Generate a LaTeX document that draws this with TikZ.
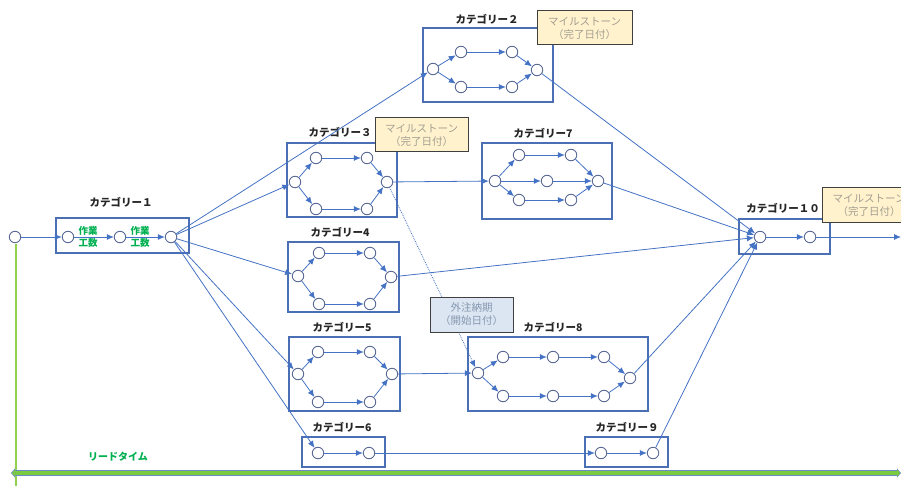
\documentclass[tikz,border=0pt]{standalone}
\usepackage{fontspec}
\newfontfamily\jp{Noto Sans CJK JP}
\usetikzlibrary{arrows.meta}

\definecolor{lineblue}{HTML}{4472C4}
\definecolor{circline}{HTML}{5B6B95}
\definecolor{boxblue}{HTML}{4A6FB5}
\definecolor{msfill}{HTML}{FFF2CC}
\definecolor{msline}{HTML}{404040}
\definecolor{mstext}{HTML}{A39E92}
\definecolor{osfill}{HTML}{DCE6F2}
\definecolor{ostext}{HTML}{8497B0}
\definecolor{worktext}{HTML}{00B050}
\definecolor{leadgreen}{HTML}{7AC943}
\definecolor{leadline}{HTML}{92D050}
\definecolor{titletext}{HTML}{262626}

\tikzset{
  pt/.style={circle, draw=circline, line width=0.9pt, fill=white,
             minimum size=11.5pt, inner sep=0pt},
  flow/.style={draw=lineblue, line width=0.8pt,
               -{Latex[length=7pt,width=6pt]}},
  catbox/.style={draw=boxblue, line width=1.2pt, rectangle, inner sep=0pt},
  cattitle/.style={font=\jp\bfseries\fontsize{10.5}{12}\selectfont, text=titletext},
  worklabel/.style={font=\jp\bfseries\fontsize{9.5}{12}\selectfont, text=worktext,
                    align=center},
  milestone/.style={draw=msline, line width=1pt, fill=msfill, text=mstext,
                    font=\jp\fontsize{10.5}{13}\selectfont, align=center,
                    inner sep=0pt},
  outsource/.style={draw=msline, line width=1pt, fill=osfill, text=ostext,
                    font=\jp\fontsize{10.5}{13}\selectfont, align=center,
                    inner sep=0pt},
}

\begin{document}
\begin{tikzpicture}[x=1pt,y=-1pt]
\clip (0,0) rectangle (901,486);

% ---------- category frames ----------
\node[catbox, minimum width=133pt, minimum height=35pt] (box1)  at (122.5,235.5) {};
\node[catbox, minimum width=130pt, minimum height=74pt] (box2)  at (488,65) {};
\node[catbox, minimum width=110pt, minimum height=74pt] (box3)  at (342,180) {};
\node[catbox, minimum width=111pt, minimum height=70pt] (box4)  at (343.5,277) {};
\node[catbox, minimum width=111pt, minimum height=74pt] (box5)  at (344.5,374) {};
\node[catbox, minimum width=83pt,  minimum height=30pt] (box6)  at (343.5,452) {};
\node[catbox, minimum width=130pt, minimum height=76pt] (box7)  at (547,181) {};
\node[catbox, minimum width=180pt, minimum height=74pt] (box8)  at (558,374) {};
\node[catbox, minimum width=83pt,  minimum height=30pt] (box9)  at (626.5,452) {};
\node[catbox, minimum width=91pt,  minimum height=35pt] (box10) at (784.5,236.5) {};

% ---------- category titles ----------
\node[cattitle] (t1)  at (121,202) {カテゴリー１};
\node[cattitle] (t2)  at (487,19)  {カテゴリー２};
\node[cattitle] (t3)  at (340,132) {カテゴリー３};
\node[cattitle] (t4)  at (340,232) {カテゴリー4};
\node[cattitle] (t5)  at (342,327) {カテゴリー5};
\node[cattitle] (t6)  at (342,427) {カテゴリー6};
\node[cattitle] (t7)  at (543,133) {カテゴリー7};
\node[cattitle] (t8)  at (553,327) {カテゴリー8};
\node[cattitle] (t9)  at (627,427) {カテゴリー９};
\node[cattitle] (t10) at (783,208) {カテゴリー１０};

% ---------- lead time ----------
\draw[leadline, line width=1.5pt] (16,244) -- (16,486);
\coordinate (leadL) at (11,473);
\coordinate (leadR) at (901,473);
\draw[line width=6.5pt, draw=boxblue!80,
      {Triangle[length=4pt,width=9pt]}-{Triangle[length=4pt,width=9pt]}]
      (leadL) -- (leadR);
\draw[line width=4.5pt, draw=leadgreen, shorten <=1pt, shorten >=1pt,
      {Triangle[length=3pt,width=7pt]}-{Triangle[length=3pt,width=7pt]}]
      (leadL) -- (leadR);
\node[font=\jp\bfseries\fontsize{10}{12}\selectfont, text=worktext] (leadtxt)
      at (118,457) {リードタイム};

% ---------- start ----------
\node[pt] (s0) at (15,237) {};

% ---------- category 1 ----------
\node[pt] (c1a) at (68,237) {};
\node[pt] (c1b) at (120,237) {};
\node[pt] (c1c) at (171,237) {};
\node[worklabel] (w1) at (88,237) {作業\\工数};
\node[worklabel] (w2) at (140,237) {作業\\工数};

% ---------- category 2 ----------
\node[pt] (c2i) at (433,69) {};
\node[pt] (c2a) at (461,52) {};
\node[pt] (c2b) at (512,52) {};
\node[pt] (c2c) at (461,87) {};
\node[pt] (c2d) at (512,87) {};
\node[pt] (c2o) at (537,70) {};

% ---------- category 3 ----------
\node[pt] (c3i) at (295,182) {};
\node[pt] (c3a) at (316,158) {};
\node[pt] (c3b) at (367,158) {};
\node[pt] (c3c) at (316,209) {};
\node[pt] (c3d) at (367,209) {};
\node[pt] (c3o) at (387,182) {};

% ---------- category 4 ----------
\node[pt] (c4i) at (298,276) {};
\node[pt] (c4a) at (319,253) {};
\node[pt] (c4b) at (370,253) {};
\node[pt] (c4c) at (319,304) {};
\node[pt] (c4d) at (370,304) {};
\node[pt] (c4o) at (391,277) {};

% ---------- category 5 ----------
\node[pt] (c5i) at (298,374) {};
\node[pt] (c5a) at (318,352) {};
\node[pt] (c5b) at (370,352) {};
\node[pt] (c5c) at (318,402) {};
\node[pt] (c5d) at (370,402) {};
\node[pt] (c5o) at (392,374) {};

% ---------- category 6 ----------
\node[pt] (c6a) at (318,453) {};
\node[pt] (c6b) at (369,453) {};

% ---------- category 7 ----------
\node[pt] (c7i) at (495,181) {};
\node[pt] (c7a) at (519,155) {};
\node[pt] (c7b) at (571,155) {};
\node[pt] (c7m) at (547,181) {};
\node[pt] (c7c) at (519,200) {};
\node[pt] (c7d) at (571,200) {};
\node[pt] (c7o) at (598,181) {};

% ---------- category 8 ----------
\node[pt] (c8i) at (478,373) {};
\node[pt] (c8a) at (503,357) {};
\node[pt] (c8b) at (553,357) {};
\node[pt] (c8c) at (604,357) {};
\node[pt] (c8d) at (503,396) {};
\node[pt] (c8e) at (553,396) {};
\node[pt] (c8f) at (604,396) {};
\node[pt] (c8o) at (630,378) {};

% ---------- category 9 ----------
\node[pt] (c9a) at (601,453) {};
\node[pt] (c9b) at (653,453) {};

% ---------- category 10 ----------
\node[pt] (c10a) at (760,237) {};
\node[pt] (c10b) at (810,237) {};
\coordinate (fin) at (901,237);

% ---------- flows inside categories ----------
\draw[flow] (c1a) -- (c1b);
\draw[flow] (c1b) -- (c1c);
\foreach \k in {2,3,4,5}{
  \draw[flow] (c\k i) -- (c\k a);
  \draw[flow] (c\k a) -- (c\k b);
  \draw[flow] (c\k b) -- (c\k o);
  \draw[flow] (c\k i) -- (c\k c);
  \draw[flow] (c\k c) -- (c\k d);
  \draw[flow] (c\k d) -- (c\k o);
}
\draw[flow] (c6a) -- (c6b);
\draw[flow] (c7i) -- (c7a);
\draw[flow] (c7a) -- (c7b);
\draw[flow] (c7b) -- (c7o);
\draw[flow] (c7i) -- (c7m);
\draw[flow] (c7m) -- (c7o);
\draw[flow] (c7i) -- (c7c);
\draw[flow] (c7c) -- (c7d);
\draw[flow] (c7d) -- (c7o);
\draw[flow] (c8i) -- (c8a);
\draw[flow] (c8a) -- (c8b);
\draw[flow] (c8b) -- (c8c);
\draw[flow] (c8c) -- (c8o);
\draw[flow] (c8i) -- (c8d);
\draw[flow] (c8d) -- (c8e);
\draw[flow] (c8e) -- (c8f);
\draw[flow] (c8f) -- (c8o);
\draw[flow] (c9a) -- (c9b);
\draw[flow] (c10a) -- (c10b);

% ---------- flows between categories ----------
\draw[flow] (s0) -- (c1a);
\draw[flow] (c1c) -- (c2i);
\draw[flow] (c1c) -- (c3i);
\draw[flow] (c1c) -- (c4i);
\draw[flow] (c1c) -- (c5i);
\draw[flow] (c1c) -- (c6a);
\draw[flow] (c3o) -- (c7i);
\draw[flow] (c5o) -- (c8i);
\draw[flow] (c6b) -- (c9a);
\draw[flow] (c2o) -- (c10a);
\draw[flow] (c7o) -- (c10a);
\draw[flow] (c4o) -- (c10a);
\draw[flow] (c8o) -- (c10a);
\draw[flow] (c9b) -- (c10a);
\draw[flow] (c10b) -- (fin);
\draw[flow, densely dotted] (c3o) -- (c8i);

% ---------- milestone and outsourcing notes ----------
\node[milestone, minimum width=95pt, minimum height=34pt] (ms2)  at (584.5,28)
      {マイルストーン\\（完了日付）};
\node[milestone, minimum width=93pt, minimum height=34pt] (ms3)  at (421.5,135)
      {マイルストーン\\（完了日付）};
\node[milestone, minimum width=94pt, minimum height=35pt] (ms10) at (869,205.5)
      {マイルストーン\\（完了日付）};
\node[outsource, minimum width=83pt, minimum height=35pt] (os8)  at (471.5,314.5)
      {外注納期\\（開始日付）};
\end{tikzpicture}
\end{document}
